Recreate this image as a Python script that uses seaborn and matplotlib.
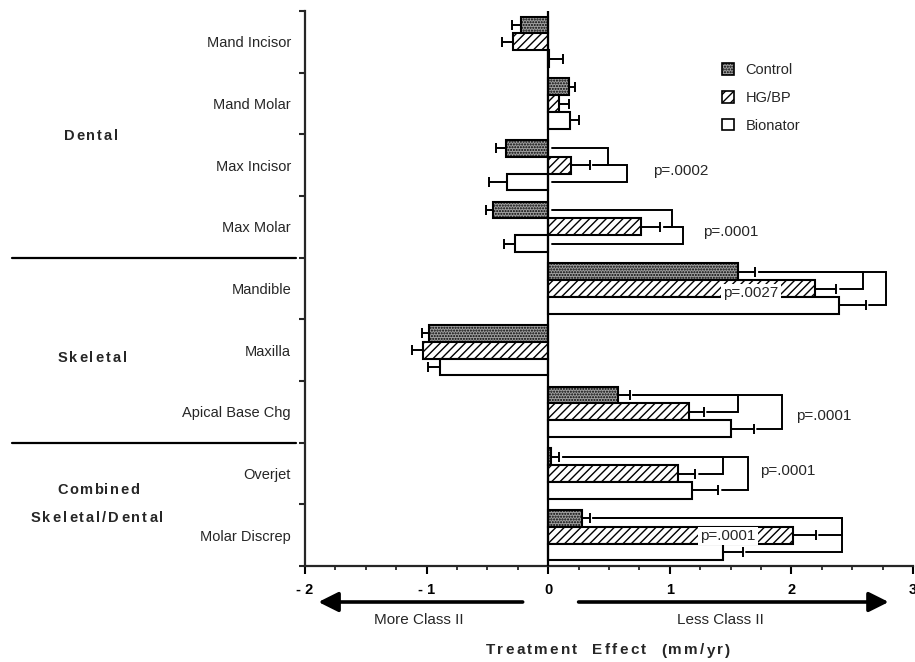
import numpy as np
import pandas as pd
import matplotlib
matplotlib.use("Agg")
import matplotlib.pyplot as plt
import seaborn as sns
from matplotlib.transforms import blended_transform_factory, ScaledTranslation
from matplotlib.font_manager import FontProperties, findfont, get_font
from matplotlib.patches import Patch

# ---- data (mm/yr) ----
categories = ["Mand Incisor", "Mand Molar", "Max Incisor", "Max Molar",
              "Mandible", "Maxilla", "Apical Base Chg", "Overjet", "Molar Discrep"]
groups = ["Control", "HG/BP", "Bionator"]

control = [-0.22, 0.17, -0.35, -0.45, 1.56, -0.98, 0.57, 0.02, 0.28]
control_se = [0.08, 0.05, 0.08, 0.06, 0.14, 0.06, 0.10, 0.07, 0.06]
hgbp = [-0.29, 0.09, 0.19, 0.76, 2.19, -1.03, 1.16, 1.07, 2.01]
hgbp_se = [0.09, 0.08, 0.15, 0.16, 0.18, 0.09, 0.12, 0.14, 0.19]
bionator = [0.01, 0.18, -0.34, -0.27, 2.39, -0.89, 1.50, 1.18, 1.44]
bionator_se = [0.11, 0.07, 0.15, 0.09, 0.22, 0.10, 0.19, 0.22, 0.16]

region_labels = ["Dental", "Skeletal", "Combined", "Skeletal/Dental"]
xtick_values = [-2, -1, 0, 1, 2, 3]
xtick_labels = ["- 2", "- 1", "0", "1", "2", "3"]

# significance brackets: (measure, first group, second group, bracket x)
brackets = [
    ("Max Incisor", "Control", "HG/BP", 0.49),
    ("Max Incisor", "HG/BP", "Bionator", 0.65),
    ("Max Molar", "Control", "HG/BP", 1.015),
    ("Max Molar", "HG/BP", "Bionator", 1.11),
    ("Mandible", "Control", "HG/BP", 2.59),
    ("Mandible", "Control", "Bionator", 2.78),
    ("Apical Base Chg", "Control", "HG/BP", 1.56),
    ("Apical Base Chg", "Control", "Bionator", 1.92),
    ("Overjet", "Control", "HG/BP", 1.44),
    ("Overjet", "Control", "Bionator", 1.64),
    ("Molar Discrep", "Control", "HG/BP", 2.42),
    ("Molar Discrep", "Control", "Bionator", 2.42),
]
# p-values: (measure, text, x, vertical offset, white backing)
p_values = [
    ("Max Incisor", "p=.0002", 0.86, 0.09, False),
    ("Max Molar", "p=.0001", 1.27, 0.08, False),
    ("Mandible", "p=.0027", 1.44, 0.07, True),
    ("Apical Base Chg", "p=.0001", 2.04, 0.07, False),
    ("Overjet", "p=.0001", 1.745, -0.04, False),
    ("Molar Discrep", "p=.0001", 1.25, 0.01, True),
]

values = {"Control": control, "HG/BP": hgbp, "Bionator": bionator}
errors = {"Control": control_se, "HG/BP": hgbp_se, "Bionator": bionator_se}

df = pd.DataFrame({
    "measure": categories * 3,
    "group": [g for g in groups for _ in categories],
    "effect": control + hgbp + bionator,
})

sns.set_theme(style="ticks")
plt.rcParams["font.family"] = ["Liberation Sans", "DejaVu Sans"]
plt.rcParams["hatch.linewidth"] = 1.0
plt.rcParams["hatch.color"] = "black"

fig = plt.figure(figsize=(9.15, 6.62), dpi=100)
W, H = 915, 662
ax = fig.add_axes([305 / W, 1 - 566 / H, (913 - 305) / W, (566 - 11) / H])

fills = {"Control": "#a0a0a0", "HG/BP": "white", "Bionator": "white"}
hatches = {"Control": "......", "HG/BP": "////", "Bionator": ""}

sns.barplot(data=df, x="effect", y="measure", hue="group", order=categories,
            hue_order=groups, orient="h", width=0.82, palette=fills,
            saturation=1, edgecolor="black", linewidth=1.5, errorbar=None,
            legend=False, ax=ax)

bar_sets = {g: ax.containers[i] for i, g in enumerate(groups)}
for g, cont in bar_sets.items():
    for p in cont:
        p.set_hatch(hatches[g])

# one-sided error bars pointing outward from each bar end
row_y = {}
for g in groups:
    ys = [p.get_y() + p.get_height() / 2 for p in bar_sets[g]]
    row_y[g] = dict(zip(categories, ys))
    v = np.array(values[g])
    e = np.array(errors[g])
    lower = np.where(v < 0, e, 0)
    upper = np.where(v >= 0, e, 0)
    ax.errorbar(v, ys, xerr=[lower, upper], fmt="none", ecolor="black",
                elinewidth=1.4, capsize=3.5, capthick=1.4, zorder=3)

ax.axvline(0, color="black", lw=1.6, zorder=4)

# brackets linking groups
def reach(g, m):
    i = categories.index(m)
    v = values[g][i]
    return (v + errors[g][i] if v > 0 else 0) + 0.03

for m, g1, g2, xb in brackets:
    y1, y2 = row_y[g1][m], row_y[g2][m]
    ax.plot([reach(g1, m), xb, xb, reach(g2, m)], [y1, y1, y2, y2],
            color="black", lw=1.4, solid_joinstyle="miter", zorder=2)

for m, txt, x, dy, backed in p_values:
    y = categories.index(m) + dy
    kw = dict(bbox=dict(facecolor="white", edgecolor="none", pad=1.5)) if backed else {}
    ax.text(x, y, txt, ha="left", va="center", fontsize=11, zorder=5, **kw)

# axes styling
ax.set_xlim(-2, 3)
ax.set_ylim(8.5, -0.5)
ax.set_xlabel("")
ax.set_ylabel("")
sns.despine(ax=ax)
for s in ("left", "bottom"):
    ax.spines[s].set_linewidth(1.6)
ax.set_xticks(xtick_values)
ax.set_xticklabels(xtick_labels, fontsize=10.5, fontweight="bold")
ax.set_xticks(np.arange(-2, 3.01, 0.25), minor=True)
ax.tick_params(axis="x", which="major", length=6, width=1.5, pad=6, colors="black")
ax.tick_params(axis="x", which="minor", length=3, width=1.3)
ax.set_yticks(range(len(categories)))
ax.set_yticklabels(categories, fontsize=10.5)
ax.set_yticks(np.arange(-0.5, len(categories), 1), minor=True)
ax.tick_params(axis="y", which="major", length=0, pad=10)
ax.tick_params(axis="y", which="minor", length=4, width=1.5)

# legend
handles = [Patch(facecolor=fills[g], edgecolor="black", hatch=hatches[g], lw=1.2)
           for g in groups]
ax.legend(handles, groups, loc="upper left", bbox_to_anchor=(722 / W, 1 - 63 / H),
          bbox_transform=fig.transFigure, frameon=False, fontsize=10.5,
          handlelength=0.85, handleheight=0.85, labelspacing=0.95,
          handletextpad=0.75, borderpad=0, borderaxespad=0)


# letter-spaced bold text
def spaced(x, y, s, transform, size, track):
    fp = FontProperties(family="Liberation Sans", weight="bold", size=size)
    font = get_font(findfont(fp))
    font.set_size(size, 72)
    adv = [font.load_char(ord(c)).linearHoriAdvance / 65536 for c in s]
    total = sum(adv) + track * (len(s) - 1)
    pos = -total / 2
    for c, a in zip(s, adv):
        off = ScaledTranslation(pos / 72, -0.36 * size / 72, fig.dpi_scale_trans)
        fig.text(x, y, c, transform=transform + off, fontproperties=fp,
                 ha="left", va="baseline")
        pos += a + track


side = blended_transform_factory(fig.transFigure, ax.transData)
spaced(91 / W, 1.51, region_labels[0], side, 10.5, 1.4)
spaced(92 / W, 5.11, region_labels[1], side, 10.5, 1.5)
spaced(98 / W, 7.25, region_labels[2], side, 10.5, 1.1)
spaced(97 / W, 7.70, region_labels[3], side, 10.5, 1.5)
for yb in (3.5, 6.5):
    ax.plot([12 / W, 296 / W], [yb, yb], transform=side, color="black",
            lw=1.6, clip_on=False)

# direction arrows and axis title
below = blended_transform_factory(ax.transData, fig.transFigure)
ya = 1 - 602 / H
arrow = dict(arrowstyle="-|>,head_length=0.8,head_width=0.4", lw=2.6,
             color="black", mutation_scale=15, shrinkA=0, shrinkB=0)
ax.annotate("", xy=(-1.89, ya), xytext=(-0.21, ya), xycoords=below,
            textcoords=below, arrowprops=arrow, annotation_clip=False)
ax.annotate("", xy=(2.80, ya), xytext=(0.25, ya), xycoords=below,
            textcoords=below, arrowprops=arrow, annotation_clip=False)
ax.text(-1.06, 1 - 620 / H, "More Class II", transform=below, ha="center",
        va="center", fontsize=11)
ax.text(1.42, 1 - 620 / H, "Less Class II", transform=below, ha="center",
        va="center", fontsize=11)
spaced(608 / W, 1 - 649 / H, "Treatment  Effect  (mm/yr)", fig.transFigure, 11, 1.6)

fig.savefig("out.png", dpi=100)
